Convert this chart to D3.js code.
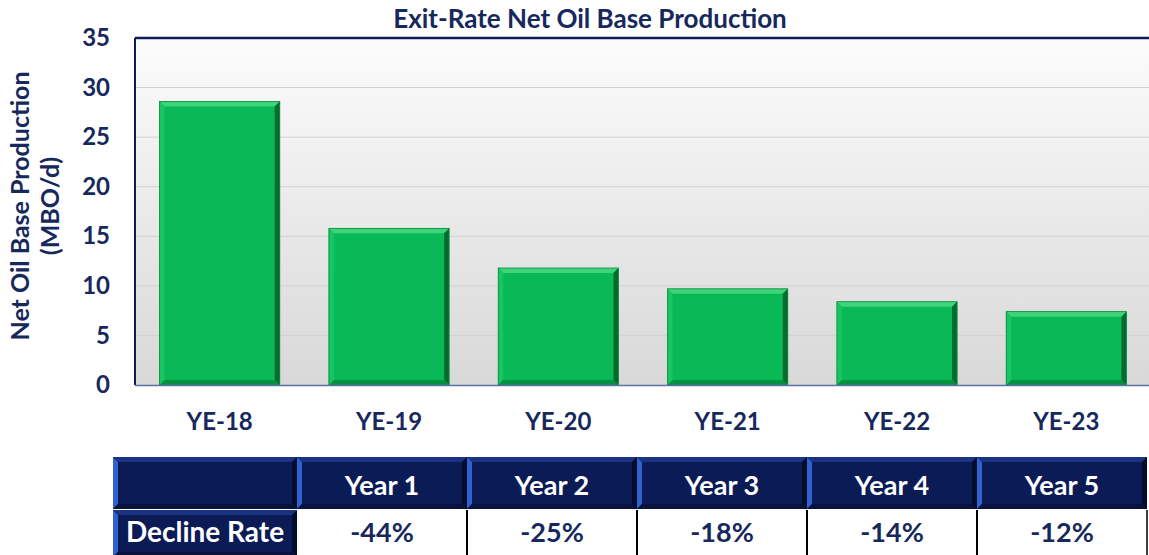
<!DOCTYPE html>
<html>
<head>
    <meta charset="utf-8">
    <title>Exit-Rate Net Oil Base Production</title>
    <script src="https://cdn.jsdelivr.net/npm/d3@7"></script>
    <style>
        body { margin: 0; background: #fff; }
        text { font-family: Lato, "Open Sans", sans-serif; font-weight: bold; }
    </style>
</head>
<body>
<svg id="chart" width="1149" height="555"></svg>
<script>
    // chart data
    let years = ["YE-18", "YE-19", "YE-20", "YE-21", "YE-22", "YE-23"]
    let production = [28.6, 15.8, 11.8, 9.7, 8.4, 7.4]
    let yTicks = [0, 5, 10, 15, 20, 25, 30, 35]

    // table data
    let tableHeaders = ["Year 1", "Year 2", "Year 3", "Year 4", "Year 5"]
    let declineRates = ["-44%", "-25%", "-18%", "-14%", "-12%"]

    let navy = "#16285c"
    let svg = d3.select("#chart")

    let plot = {left: 135, right: 1151, top: 38, bottom: 385}

    let x = d3.scaleBand()
        .domain(years)
        .range([plot.left, plot.right])
        .paddingInner(0.29)
        .paddingOuter(0.145)

    let y = d3.scaleLinear()
        .domain([0, 35])
        .range([plot.bottom, plot.top])

    let defs = svg.append("defs")
    let bg = defs.append("linearGradient").attr("id", "bg")
        .attr("x1", 0).attr("y1", 0).attr("x2", 0).attr("y2", 1)
    bg.append("stop").attr("offset", "0%").attr("stop-color", "#fcfcfc")
    bg.append("stop").attr("offset", "100%").attr("stop-color", "#d8d8d8")

    // plot background
    svg.append("rect")
        .attr("x", plot.left).attr("y", plot.top)
        .attr("width", plot.right - plot.left).attr("height", plot.bottom - plot.top)
        .attr("fill", "url(#bg)")

    // gridlines
    svg.selectAll(".grid")
        .data(yTicks.filter(d => d > 0 && d < 35))
        .enter().append("line")
        .attr("x1", plot.left).attr("x2", plot.right)
        .attr("y1", d => y(d)).attr("y2", d => y(d))
        .attr("stroke", "#d2d2d2").attr("stroke-width", 1)

    // bars with a bevel look
    let bev = 5
    let bars = svg.selectAll(".bar").data(production).enter().append("g")
    bars.append("rect")
        .attr("x", (d, i) => x(years[i]))
        .attr("y", d => y(d))
        .attr("width", x.bandwidth())
        .attr("height", d => y(0) - y(d))
        .attr("fill", "#08b955")
    // top highlight
    bars.append("polygon")
        .attr("points", (d, i) => {
            let x0 = x(years[i]), x1 = x0 + x.bandwidth(), t = y(d)
            return [[x0, t], [x1, t], [x1 - bev, t + bev], [x0 + bev, t + bev]].join(" ")
        })
        .attr("fill", "#3fd37a")
    // left edge
    bars.append("polygon")
        .attr("points", (d, i) => {
            let x0 = x(years[i]), t = y(d), b = y(0)
            return [[x0, t], [x0 + bev, t + bev], [x0 + bev, b - bev], [x0, b]].join(" ")
        })
        .attr("fill", "#17c563")
    // right shadow
    bars.append("polygon")
        .attr("points", (d, i) => {
            let x1 = x(years[i]) + x.bandwidth(), t = y(d), b = y(0)
            return [[x1, t], [x1, b], [x1 - bev, b - bev], [x1 - bev, t + bev]].join(" ")
        })
        .attr("fill", "#046b2f")
    // bottom shadow
    bars.append("polygon")
        .attr("points", (d, i) => {
            let x0 = x(years[i]), x1 = x0 + x.bandwidth(), b = y(0)
            return [[x0, b], [x1, b], [x1 - bev, b - bev], [x0 + bev, b - bev]].join(" ")
        })
        .attr("fill", "#05913f")
    bars.append("rect")
        .attr("x", (d, i) => x(years[i]))
        .attr("y", d => y(d))
        .attr("width", x.bandwidth())
        .attr("height", d => y(0) - y(d))
        .attr("fill", "none")
        .attr("stroke", "#0a8a3f").attr("stroke-width", 0.8)

    // frame
    svg.append("line")
        .attr("x1", plot.left).attr("x2", plot.right)
        .attr("y1", plot.top).attr("y2", plot.top)
        .attr("stroke", "#0e1d55").attr("stroke-width", 2.5)
    svg.append("line")
        .attr("x1", plot.left).attr("x2", plot.left)
        .attr("y1", plot.top).attr("y2", plot.bottom)
        .attr("stroke", "#0e1d55").attr("stroke-width", 2)
    svg.append("line")
        .attr("x1", plot.left).attr("x2", plot.right)
        .attr("y1", plot.bottom + 0.5).attr("y2", plot.bottom + 0.5)
        .attr("stroke", "#5a72a8").attr("stroke-width", 1.5)

    // y axis
    let yAxis = svg.append("g")
        .attr("transform", `translate(${plot.left - 25},0)`)
        .call(d3.axisLeft(y).tickValues(yTicks).tickSize(0).tickPadding(0))
    yAxis.select(".domain").remove()
    yAxis.selectAll("text")
        .attr("fill", navy).attr("font-size", 24)
        .style("font-family", "Lato, sans-serif").style("font-weight", "bold")

    // x axis labels
    let xAxis = svg.append("g")
        .attr("transform", `translate(0,${plot.bottom})`)
        .call(d3.axisBottom(x).tickSize(0))
    xAxis.select(".domain").remove()
    xAxis.selectAll("text")
        .attr("y", 45).attr("dy", null)
        .attr("fill", navy).attr("font-size", 24)
        .style("font-family", "Lato, sans-serif").style("font-weight", "bold")

    // title
    svg.append("text")
        .attr("x", 590).attr("y", 28)
        .attr("text-anchor", "middle")
        .attr("fill", navy).attr("font-size", 26)
        .text("Exit-Rate Net Oil Base Production")

    // y title
    let yTitle = svg.append("text")
        .attr("transform", "translate(0,206) rotate(-90)")
        .attr("text-anchor", "middle")
        .attr("fill", navy).attr("font-size", 25)
    yTitle.append("tspan").attr("x", 0).attr("y", 29).text("Net Oil Base Production")
    yTitle.append("tspan").attr("x", 0).attr("y", 59).text("(MBO/d)")

    // table below
    let table = {left: 113, firstCol: 297, right: 1147, top: 457, mid: 509, bottom: 556}
    let tx = d3.scaleBand()
        .domain(tableHeaders)
        .range([table.firstCol, table.right])

    function navyCell(x0, y0, w, h) {
        let g = svg.append("g")
        g.append("rect").attr("x", x0).attr("y", y0).attr("width", w).attr("height", h)
            .attr("fill", "#0b1b55")
        // left bright edge
        g.append("polygon")
            .attr("points", [[x0, y0], [x0 + 5, y0 + 5], [x0 + 5, y0 + h - 5], [x0, y0 + h]].join(" "))
            .attr("fill", "#2f62d0")
        // top edge
        g.append("polygon")
            .attr("points", [[x0, y0], [x0 + w, y0], [x0 + w - 5, y0 + 5], [x0 + 5, y0 + 5]].join(" "))
            .attr("fill", "#1a3483")
        // right dark edge
        g.append("polygon")
            .attr("points", [[x0 + w, y0], [x0 + w, y0 + h], [x0 + w - 5, y0 + h - 5], [x0 + w - 5, y0 + 5]].join(" "))
            .attr("fill", "#040c2c")
        // bottom edge
        g.append("polygon")
            .attr("points", [[x0, y0 + h], [x0 + w, y0 + h], [x0 + w - 5, y0 + h - 5], [x0 + 5, y0 + h - 5]].join(" "))
            .attr("fill", "#08123d")
        return g
    }

    // header row
    navyCell(table.left, table.top, table.firstCol - table.left, table.mid - table.top)
    tableHeaders.forEach(h => {
        navyCell(tx(h), table.top, tx.bandwidth(), table.mid - table.top)
        svg.append("text")
            .attr("x", tx(h) + tx.bandwidth() / 2).attr("y", 495)
            .attr("text-anchor", "middle").attr("fill", "#fff").attr("font-size", 27)
            .text(h)
    })

    // decline rate row
    navyCell(table.left, table.mid + 1, table.firstCol - table.left, table.bottom - table.mid)
    svg.append("text")
        .attr("x", (table.left + table.firstCol) / 2).attr("y", 542)
        .attr("text-anchor", "middle").attr("fill", "#fff").attr("font-size", 28)
        .text("Decline Rate")

    svg.selectAll(".rate").data(declineRates).enter().append("text")
        .attr("x", (d, i) => tx(tableHeaders[i]) + tx.bandwidth() / 2)
        .attr("y", 542)
        .attr("text-anchor", "middle").attr("fill", navy).attr("font-size", 27)
        .text(d => d)

    svg.selectAll(".sep").data(tableHeaders.slice(1)).enter().append("line")
        .attr("x1", d => tx(d)).attr("x2", d => tx(d))
        .attr("y1", table.mid + 1).attr("y2", table.bottom)
        .attr("stroke", "#000").attr("stroke-width", 2)
    svg.append("line")
        .attr("x1", table.right).attr("x2", table.right)
        .attr("y1", table.mid + 1).attr("y2", table.bottom)
        .attr("stroke", "#000").attr("stroke-width", 1.5)
</script>
</body>
</html>
